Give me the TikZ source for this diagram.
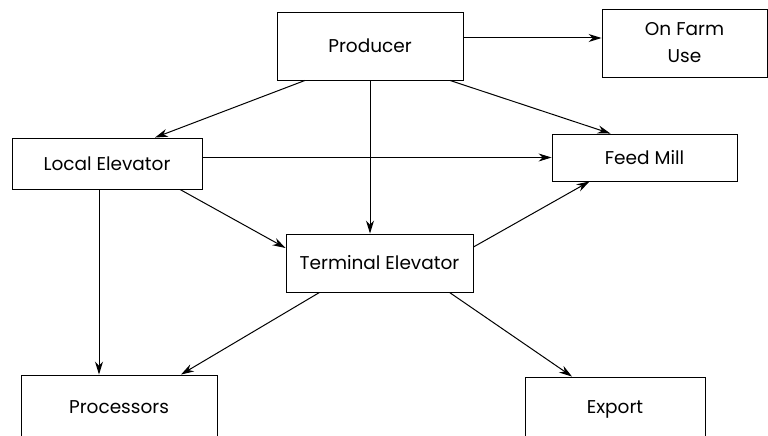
\documentclass[tikz,border=0pt]{standalone}
\usepackage{fontspec}
\setmainfont{Poppins}
\usetikzlibrary{arrows.meta}
\begin{document}
\begin{tikzpicture}[x=1pt, y=-1pt,
		box/.style={draw, line width=0.9pt, inner sep=0pt, align=center, font=\fontsize{18.5}{27}\selectfont},
		arr/.style={line width=1pt, -{Stealth[length=13pt,width=8pt]}}]
		\useasboundingbox (0,0) rectangle (768,436);
		%kisten
		\node[box, minimum width=186pt, minimum height=68pt] (producer) at (370,46) {Producer};
		\node[box, minimum width=165pt, minimum height=68pt] (farm) at (684.5,43) {On Farm\\Use};
		\node[box, minimum width=190pt, minimum height=51pt] (local) at (107,163.5) {Local Elevator};
		\node[box, minimum width=185pt, minimum height=47pt] (feed) at (644.5,157.5) {Feed Mill};
		\node[box, minimum width=187pt, minimum height=58pt] (terminal) at (379.5,263) {Terminal Elevator};
		\node[box, minimum width=196pt, minimum height=64pt] (proc) at (119,407) {Processors};
		\node[box, minimum width=180pt, minimum height=64pt] (export) at (615,409) {Export};
		%pfeile
		\draw[arr] ([yshift=8pt]producer.east) -- ([yshift=8pt]producer.east -| farm.west);
		\draw[arr] ([xshift=-65pt]producer.south) -- ([xshift=48pt]local.north);
		\draw[arr] (producer.south) -- (producer.south |- terminal.north);
		\draw[arr] ([xshift=80pt]producer.south) -- ([xshift=-34pt]feed.north);
		%
		\draw[arr] (feed.west -| local.east) -- (feed.west);
		\draw[arr] ([xshift=73pt]local.south) -- ([yshift=15pt]terminal.west);
		\draw[arr] ([xshift=-8pt]local.south) -- ([xshift=-8pt]local.south |- proc.north);
		%
		\draw[arr] ([yshift=16pt]terminal.east) -- ([xshift=-55pt]feed.south);
		\draw[arr] ([xshift=-60pt]terminal.south) -- ([xshift=62pt]proc.north);
		\draw[arr] ([xshift=70pt]terminal.south) -- ([xshift=-43pt]export.north);
	\end{tikzpicture}
\end{document}
